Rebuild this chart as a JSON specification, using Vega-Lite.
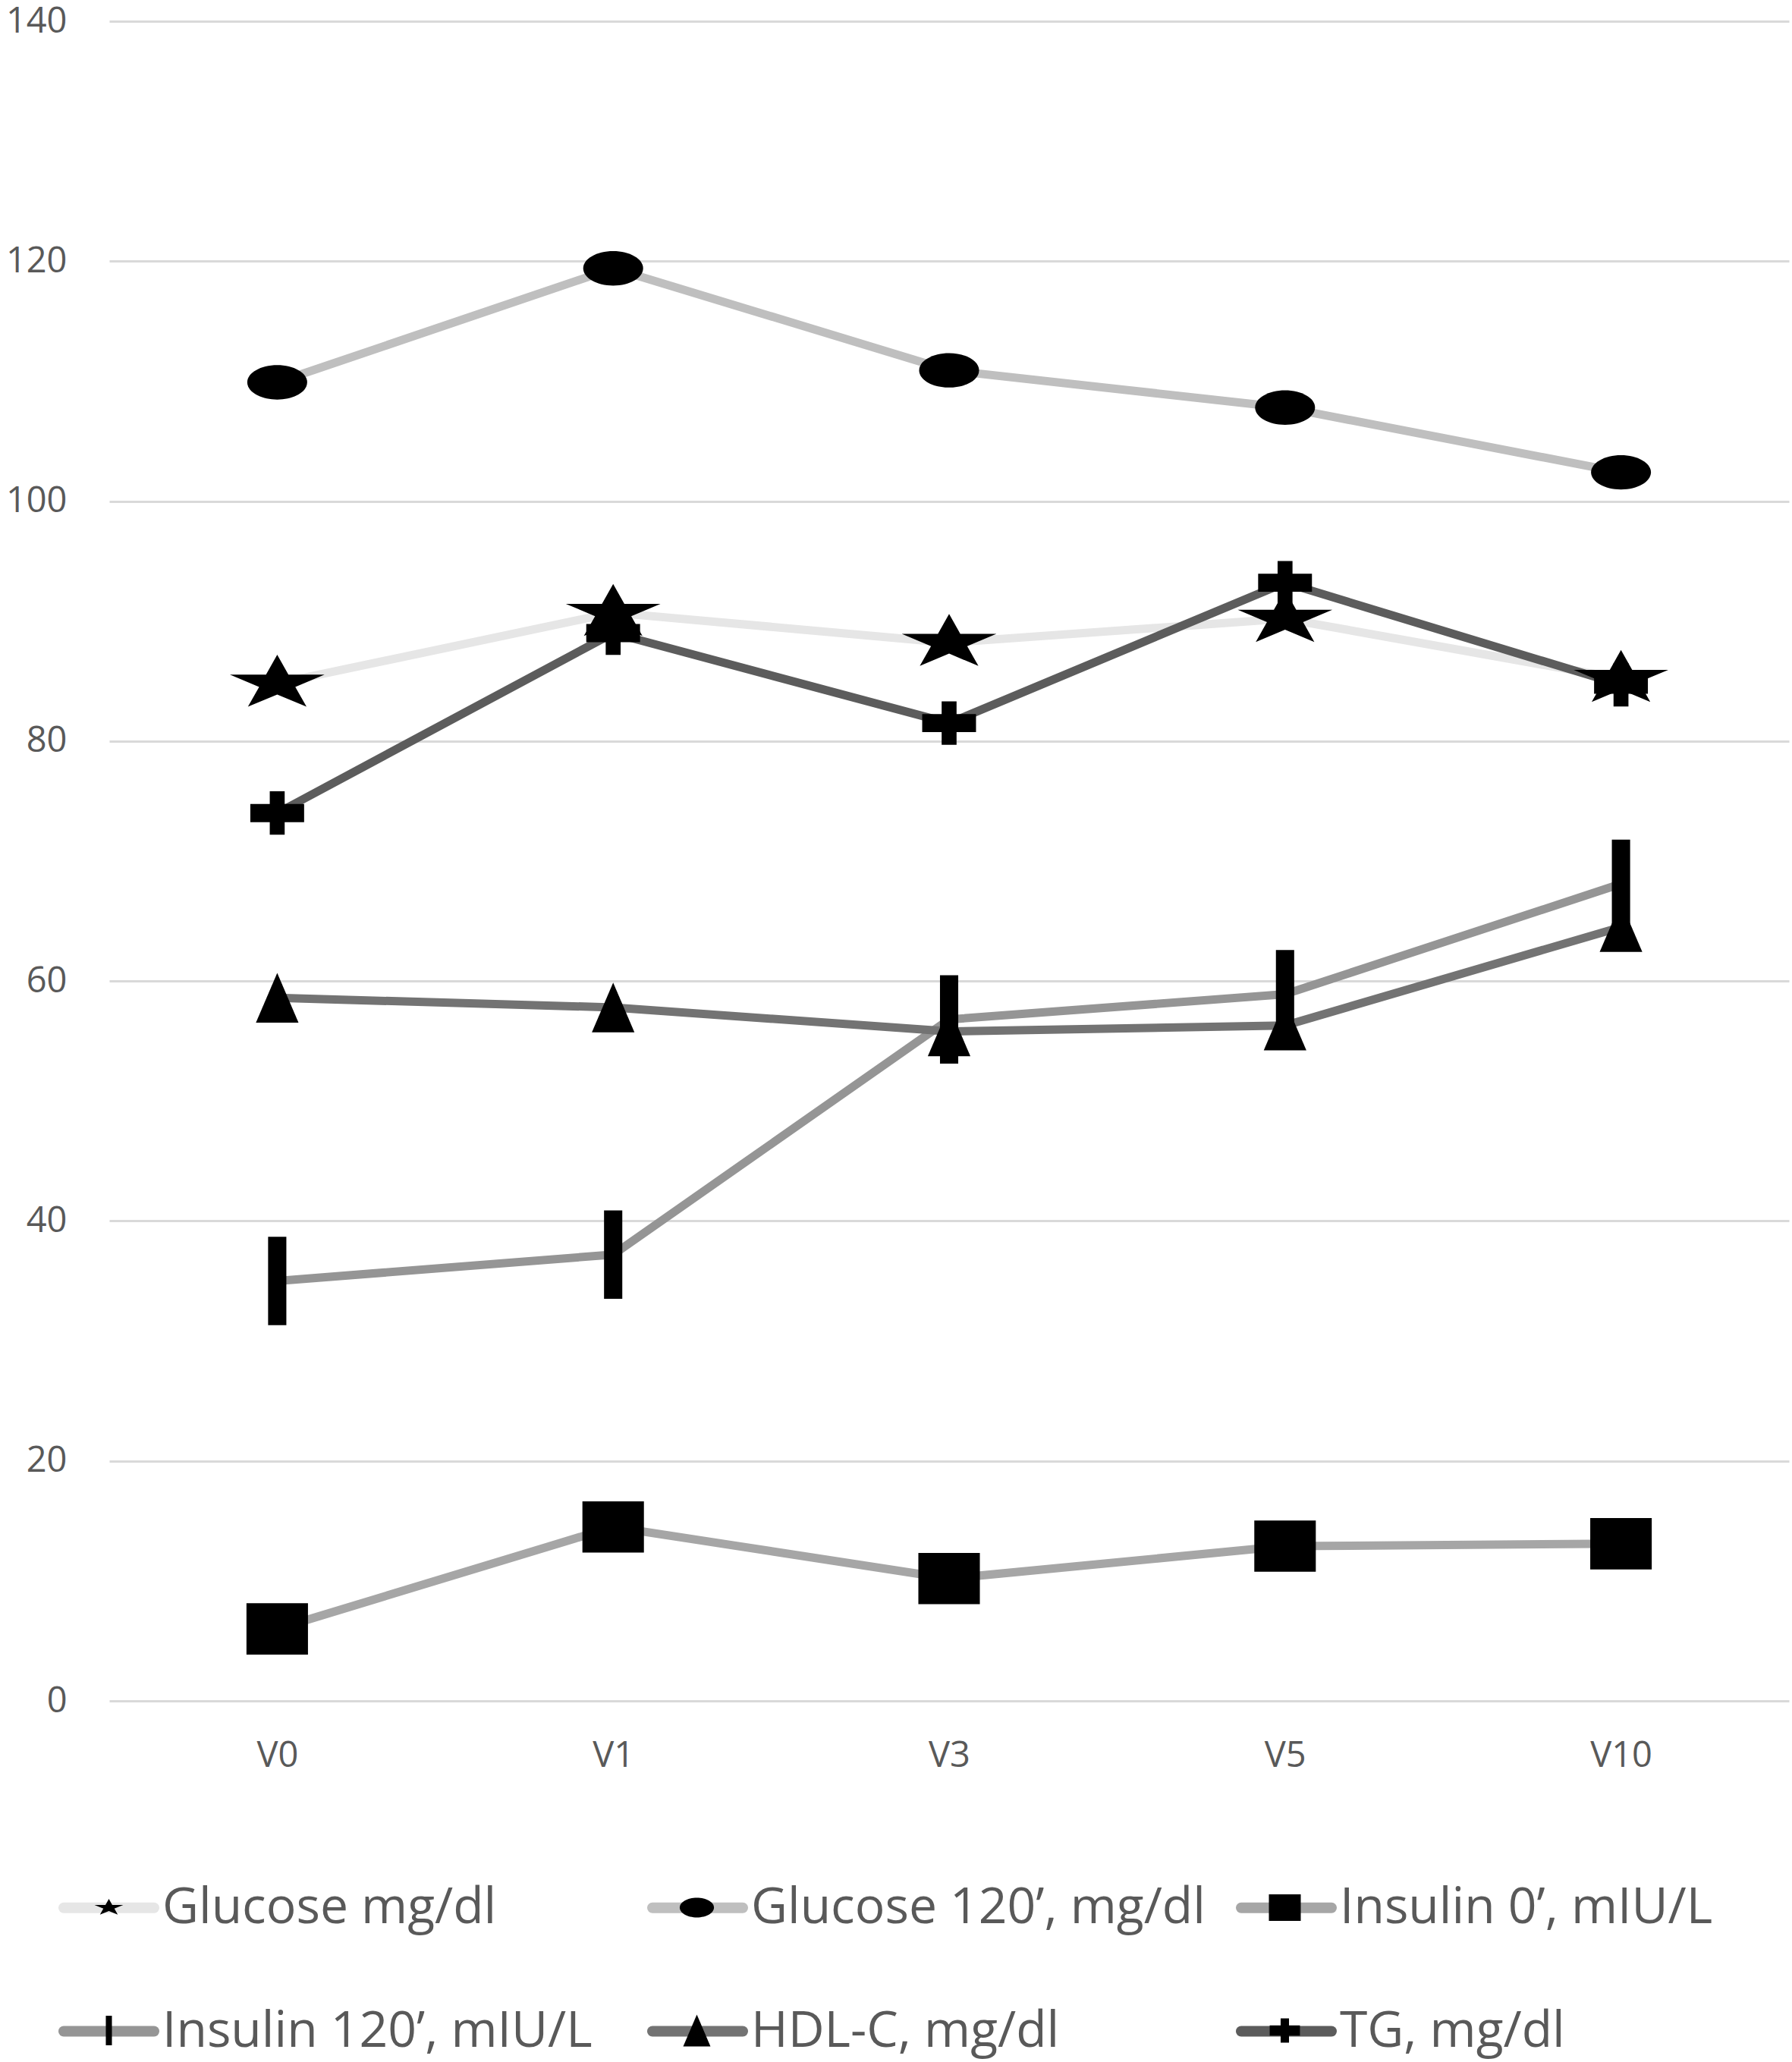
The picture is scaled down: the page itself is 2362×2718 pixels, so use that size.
{
  "$schema": "https://vega.github.io/schema/vega-lite/v6.json",
  "width": 2214,
  "height": 2214,
  "autosize": {"type": "none"},
  "padding": {"left": 144, "top": 28, "right": 4, "bottom": 476},
  "background": "white",
  "config": {"view": {"stroke": null}, "font": "Open Sans"},
  "data": {
    "values": [
      {"visit": "V0", "series": "Glucose mg/dl", "value": 84.8},
      {"visit": "V1", "series": "Glucose mg/dl", "value": 90.7},
      {"visit": "V3", "series": "Glucose mg/dl", "value": 88.2},
      {"visit": "V5", "series": "Glucose mg/dl", "value": 90.2},
      {"visit": "V10", "series": "Glucose mg/dl", "value": 85.2},
      {"visit": "V0", "series": "Glucose 120’, mg/dl", "value": 109.9},
      {"visit": "V1", "series": "Glucose 120’, mg/dl", "value": 119.4},
      {"visit": "V3", "series": "Glucose 120’, mg/dl", "value": 110.9},
      {"visit": "V5", "series": "Glucose 120’, mg/dl", "value": 107.8},
      {"visit": "V10", "series": "Glucose 120’, mg/dl", "value": 102.4},
      {"visit": "V0", "series": "Insulin 0’, mIU/L", "value": 6.0},
      {"visit": "V1", "series": "Insulin 0’, mIU/L", "value": 14.5},
      {"visit": "V3", "series": "Insulin 0’, mIU/L", "value": 10.2},
      {"visit": "V5", "series": "Insulin 0’, mIU/L", "value": 12.9},
      {"visit": "V10", "series": "Insulin 0’, mIU/L", "value": 13.1},
      {"visit": "V0", "series": "Insulin 120’, mIU/L", "value": 35.0},
      {"visit": "V1", "series": "Insulin 120’, mIU/L", "value": 37.2},
      {"visit": "V3", "series": "Insulin 120’, mIU/L", "value": 56.8},
      {"visit": "V5", "series": "Insulin 120’, mIU/L", "value": 58.9},
      {"visit": "V10", "series": "Insulin 120’, mIU/L", "value": 68.1},
      {"visit": "V0", "series": "HDL-C, mg/dl", "value": 58.6},
      {"visit": "V1", "series": "HDL-C, mg/dl", "value": 57.8},
      {"visit": "V3", "series": "HDL-C, mg/dl", "value": 55.8},
      {"visit": "V5", "series": "HDL-C, mg/dl", "value": 56.3},
      {"visit": "V10", "series": "HDL-C, mg/dl", "value": 64.5},
      {"visit": "V0", "series": "TG, mg/dl", "value": 74.0},
      {"visit": "V1", "series": "TG, mg/dl", "value": 89.0},
      {"visit": "V3", "series": "TG, mg/dl", "value": 81.5},
      {"visit": "V5", "series": "TG, mg/dl", "value": 93.2},
      {"visit": "V10", "series": "TG, mg/dl", "value": 84.7}
    ]
  },
  "encoding": {
    "x": {
      "field": "visit",
      "type": "nominal",
      "sort": ["V0", "V1", "V3", "V5", "V10"],
      "scale": {"type": "point", "padding": 0.5},
      "axis": {
        "title": null,
        "domain": false,
        "ticks": false,
        "grid": false,
        "labelAngle": 0,
        "labelPadding": 49,
        "labelFont": "Open Sans",
        "labelFontSize": 47,
        "labelColor": "#595959"
      }
    },
    "y": {
      "field": "value",
      "type": "quantitative",
      "scale": {"domain": [0, 140], "nice": false},
      "axis": {
        "title": null,
        "domain": false,
        "ticks": false,
        "values": [0, 20, 40, 60, 80, 100, 120, 140],
        "grid": true,
        "gridColor": "#d9d9d9",
        "gridWidth": 3,
        "labelPadding": 56,
        "labelFont": "Open Sans",
        "labelFontSize": 47,
        "labelColor": "#595959"
      }
    }
  },
  "layer": [
    {
      "mark": {"type": "line", "strokeWidth": 11, "strokeJoin": "round", "strokeCap": "round"},
      "encoding": {
        "color": {
          "field": "series",
          "type": "nominal",
          "scale": {
            "domain": ["Glucose mg/dl", "Glucose 120’, mg/dl", "Insulin 0’, mIU/L", "Insulin 120’, mIU/L", "HDL-C, mg/dl", "TG, mg/dl"],
            "range": ["#e6e6e6", "#bfbfbf", "#a6a6a6", "#959595", "#737373", "#5c5c5c"]
          },
          "legend": {
            "orient": "none",
            "direction": "horizontal",
            "legendX": -67,
            "legendY": 2420,
            "columns": 3,
            "gridAlign": "all",
            "columnPadding": 19,
            "rowPadding": 63,
            "padding": 0,
            "title": null,
            "symbolType": "stroke",
            "symbolSize": 14161,
            "symbolStrokeWidth": 14,
            "labelFont": "Open Sans",
            "labelFontSize": 66,
            "labelColor": "#595959",
            "labelOffset": 4,
            "labelLimit": 1000,
            "encode": {"symbols": {"update": {"strokeCap": {"value": "round"}}}}
          }
        }
      }
    },
    {
      "mark": {"type": "point", "filled": true, "color": "black", "opacity": 1, "strokeWidth": 0},
      "encoding": {
        "shape": {
          "field": "series",
          "type": "nominal",
          "sort": ["Glucose mg/dl", "Glucose 120’, mg/dl", "Insulin 0’, mIU/L", "Insulin 120’, mIU/L", "HDL-C, mg/dl", "TG, mg/dl"],
          "scale": {
            "range": [
              "M-1,-1M1,1M0,-0.1936L0.0754,-0.0597L0.3187,-0.0597L0.1218,0.023L0.1973,0.1565L0,0.0738L-0.1973,0.1565L-0.1218,0.023L-0.3187,-0.0597L-0.0754,-0.0597Z",
              "M-1,-1M1,1M-0.3792,0A0.3792,0.2178 0 1,0 0.3792,0A0.3792,0.2178 0 1,0 -0.3792,0Z",
              "M-1,-1M1,1M-0.353,-0.2945L0.353,-0.2945L0.353,0.2945L-0.353,0.2945Z",
              "M-1,-1M1,1M-0.0674,-0.3267L0.0674,-0.3267L0.0674,0.3267L-0.0674,0.3267Z",
              "M-1,-1M1,1M0,-0.353L0.3025,0.353L-0.3025,0.353Z",
              "M-1,-1M1,1M-0.0928,-0.2703L0.0928,-0.2703L0.0928,-0.113L0.3348,-0.113L0.3348,0.113L0.0928,0.113L0.0928,0.2703L-0.0928,0.2703L-0.0928,0.113L-0.3348,0.113L-0.3348,-0.113L-0.0928,-0.113Z"
            ]
          },
          "legend": {
            "orient": "none",
            "direction": "horizontal",
            "legendX": -67,
            "legendY": 2420,
            "columns": 3,
            "gridAlign": "all",
            "columnPadding": 600,
            "rowPadding": -13,
            "padding": 0,
            "title": null,
            "symbolSize": 14161,
            "symbolFillColor": "black",
            "symbolStrokeColor": "transparent",
            "symbolStrokeWidth": 14,
            "symbolOpacity": 1,
            "labelExpr": "''",
            "labelFont": "Open Sans",
            "labelFontSize": 66,
            "labelOffset": 4
          }
        },
        "size": {
          "field": "series",
          "type": "nominal",
          "scale": {
            "type": "ordinal",
            "domain": ["TG, mg/dl", "HDL-C, mg/dl", "Insulin 120’, mIU/L", "Insulin 0’, mIU/L", "Glucose 120’, mg/dl", "Glucose mg/dl"],
            "range": [44866, 34455, 127440, 52730, 43370, 153220]
          },
          "legend": null
        }
      }
    }
  ]
}
